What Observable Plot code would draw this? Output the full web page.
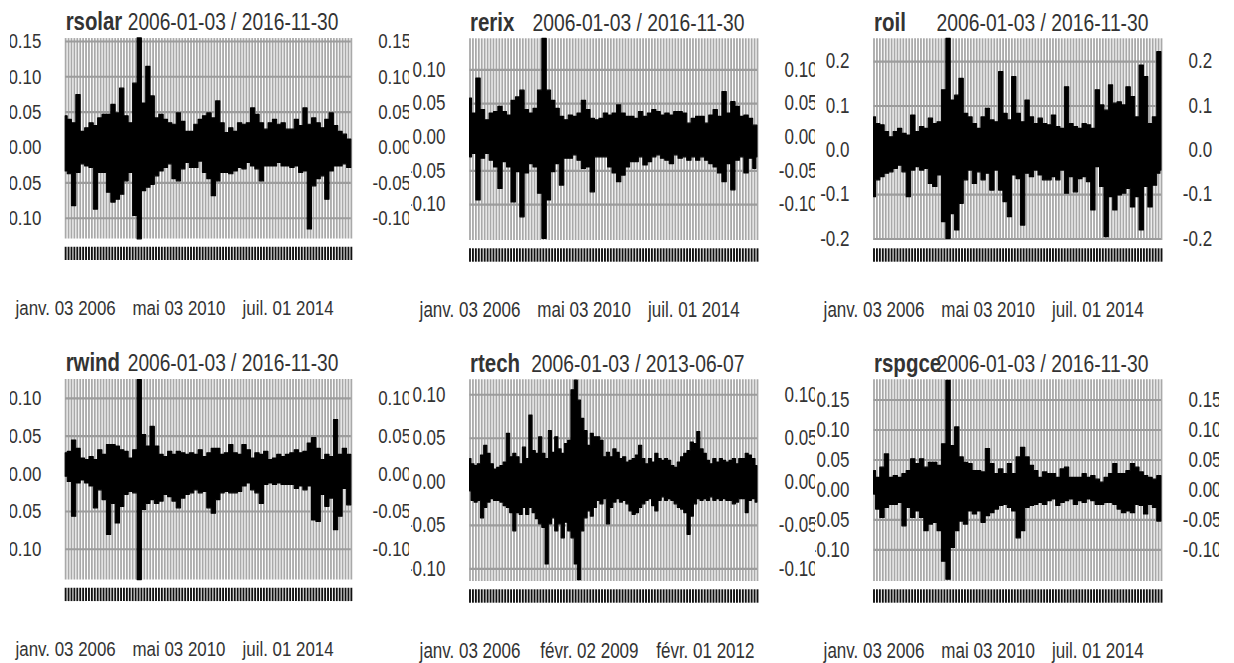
<!DOCTYPE html>
<html><head><meta charset="utf-8">
<script src="https://cdn.jsdelivr.net/npm/d3@7"></script>
<script src="https://cdn.jsdelivr.net/npm/@observablehq/plot@0.6"></script>
<style>
body{margin:0;background:#fff;}
#page{position:relative;width:1234px;height:663px;overflow:hidden;background:#fff;font-family:"Liberation Sans",Arial,sans-serif;}
.cell{position:absolute;overflow:hidden;}
.cell svg{position:relative;transform:scaleY(1.25);transform-origin:0 0;}
</style></head><body><div id="page"></div>
<script>
// ---- sample dates (bimonthly, 2006-01-03 .. 2016-11-30) ----
const datesA = ("2006-01-03 2006-03-01 2006-05-01 2006-07-01 2006-09-01 2006-11-01 " +
 "2007-01-01 2007-03-01 2007-05-01 2007-07-01 2007-09-01 2007-11-01 " +
 "2008-01-01 2008-03-01 2008-05-01 2008-07-01 2008-09-01 2008-11-01 " +
 "2009-01-01 2009-03-01 2009-05-01 2009-07-01 2009-09-01 2009-11-01 " +
 "2010-01-01 2010-03-01 2010-05-01 2010-07-01 2010-09-01 2010-11-01 " +
 "2011-01-01 2011-03-01 2011-05-01 2011-07-01 2011-09-01 2011-11-01 " +
 "2012-01-01 2012-03-01 2012-05-01 2012-07-01 2012-09-01 2012-11-01 " +
 "2013-01-01 2013-03-01 2013-05-01 2013-07-01 2013-09-01 2013-11-01 " +
 "2014-01-01 2014-03-01 2014-05-01 2014-07-01 2014-09-01 2014-11-01 " +
 "2015-01-01 2015-03-01 2015-05-01 2015-07-01 2015-09-01 2015-11-01 " +
 "2016-01-01 2016-03-01 2016-05-01 2016-07-01 2016-09-01 2016-11-01 2016-11-30").split(" ");
// ---- sample dates (monthly, 2006-01-03 .. 2013-06-07) ----
const datesB = ("2006-01-03 2006-02-01 2006-03-01 2006-04-01 2006-05-01 2006-06-01 2006-07-01 2006-08-01 2006-09-01 2006-10-01 2006-11-01 2006-12-01 " +
 "2007-01-01 2007-02-01 2007-03-01 2007-04-01 2007-05-01 2007-06-01 2007-07-01 2007-08-01 2007-09-01 2007-10-01 2007-11-01 2007-12-01 " +
 "2008-01-01 2008-02-01 2008-03-01 2008-04-01 2008-05-01 2008-06-01 2008-07-01 2008-08-01 2008-09-01 2008-10-01 2008-11-01 2008-12-01 " +
 "2009-01-01 2009-02-01 2009-03-01 2009-04-01 2009-05-01 2009-06-01 2009-07-01 2009-08-01 2009-09-01 2009-10-01 2009-11-01 2009-12-01 " +
 "2010-01-01 2010-02-01 2010-03-01 2010-04-01 2010-05-01 2010-06-01 2010-07-01 2010-08-01 2010-09-01 2010-10-01 2010-11-01 2010-12-01 " +
 "2011-01-01 2011-02-01 2011-03-01 2011-04-01 2011-05-01 2011-06-01 2011-07-01 2011-08-01 2011-09-01 2011-10-01 2011-11-01 2011-12-01 " +
 "2012-01-01 2012-02-01 2012-03-01 2012-04-01 2012-05-01 2012-06-01 2012-07-01 2012-08-01 2012-09-01 2012-10-01 2012-11-01 2012-12-01 " +
 "2013-01-01 2013-02-01 2013-03-01 2013-04-01 2013-05-01 2013-06-07").split(" ");

// ---- series envelopes (upper / lower returns read per sample period) ----
const rsolarHi = [0.044,0.039,0.034,0.074,0.022,0.027,0.034,0.030,0.041,0.046, 0.046,0.060,0.048,0.083,0.044,0.034,0.090,0.154,0.062,0.114, 0.072,0.041,0.046,0.039,0.034,0.032,0.048,0.036,0.022,0.022, 0.032,0.039,0.044,0.048,0.041,0.065,0.034,0.020,0.027,0.022, 0.034,0.032,0.034,0.055,0.046,0.034,0.025,0.034,0.039,0.032, 0.034,0.025,0.025,0.039,0.030,0.055,0.032,0.041,0.034,0.027, 0.039,0.048,0.030,0.022,0.018,0.011, 0.011];
const rsolarLo = [-0.034,-0.038,-0.083,-0.036,-0.024,-0.027,-0.029,-0.088,-0.036,-0.036, -0.064,-0.078,-0.074,-0.067,-0.048,-0.036,-0.097,-0.130,-0.062,-0.057, -0.053,-0.041,-0.034,-0.029,-0.024,-0.045,-0.048,-0.031,-0.022,-0.029, -0.029,-0.020,-0.036,-0.045,-0.069,-0.048,-0.036,-0.036,-0.038,-0.034, -0.029,-0.031,-0.022,-0.027,-0.031,-0.048,-0.027,-0.027,-0.027,-0.022, -0.027,-0.027,-0.029,-0.027,-0.036,-0.034,-0.116,-0.055,-0.045,-0.041, -0.074,-0.034,-0.027,-0.027,-0.024,-0.029, -0.029];

const rerixHi = [0.057,0.035,0.087,0.040,0.025,0.035,0.037,0.045,0.037,0.032, 0.054,0.059,0.069,0.040,0.035,0.042,0.069,0.146,0.069,0.054, 0.042,0.030,0.025,0.032,0.030,0.035,0.054,0.040,0.027,0.025, 0.027,0.035,0.032,0.035,0.047,0.035,0.030,0.030,0.027,0.037, 0.030,0.035,0.040,0.037,0.032,0.035,0.032,0.037,0.037,0.035, 0.020,0.027,0.030,0.030,0.020,0.032,0.040,0.030,0.067,0.035, 0.052,0.045,0.030,0.032,0.027,0.017, 0.017];
const rerixLo = [-0.030,-0.025,-0.094,-0.032,-0.025,-0.035,-0.045,-0.077,-0.037,-0.045, -0.097,-0.052,-0.119,-0.054,-0.040,-0.045,-0.084,-0.151,-0.094,-0.052, -0.040,-0.072,-0.032,-0.032,-0.027,-0.035,-0.047,-0.045,-0.082,-0.030, -0.030,-0.030,-0.045,-0.054,-0.067,-0.057,-0.045,-0.037,-0.037,-0.030, -0.042,-0.037,-0.030,-0.027,-0.032,-0.035,-0.040,-0.027,-0.032,-0.030, -0.035,-0.030,-0.035,-0.030,-0.035,-0.040,-0.045,-0.054,-0.067,-0.040, -0.079,-0.035,-0.030,-0.054,-0.032,-0.047, -0.030];

const roilHi = [0.074,0.059,0.056,0.041,0.029,0.041,0.048,0.037,0.033,0.078, 0.041,0.052,0.048,0.071,0.059,0.063,0.135,0.251,0.112,0.123, 0.161,0.082,0.074,0.059,0.048,0.074,0.093,0.067,0.063,0.176, 0.082,0.067,0.165,0.082,0.063,0.112,0.074,0.059,0.071,0.059, 0.056,0.078,0.052,0.048,0.142,0.059,0.052,0.048,0.059,0.056, 0.048,0.135,0.101,0.089,0.146,0.105,0.108,0.101,0.142,0.120, 0.074,0.191,0.165,0.059,0.074,0.221, 0.221];
const roilLo = [-0.106,-0.068,-0.061,-0.053,-0.050,-0.042,-0.035,-0.050,-0.106,-0.046, -0.038,-0.046,-0.042,-0.076,-0.083,-0.057,-0.162,-0.200,-0.144,-0.181, -0.121,-0.068,-0.046,-0.076,-0.050,-0.068,-0.053,-0.091,-0.046,-0.091, -0.117,-0.151,-0.057,-0.065,-0.170,-0.053,-0.061,-0.046,-0.057,-0.068, -0.068,-0.061,-0.068,-0.046,-0.098,-0.061,-0.095,-0.065,-0.061,-0.072, -0.136,-0.038,-0.083,-0.196,-0.106,-0.136,-0.102,-0.098,-0.087,-0.129, -0.106,-0.181,-0.083,-0.129,-0.080,-0.053, -0.046];

const rwindHi = [0.027,0.029,0.044,0.033,0.020,0.018,0.022,0.018,0.031,0.025, 0.038,0.038,0.036,0.031,0.029,0.020,0.031,0.124,0.051,0.036, 0.062,0.036,0.025,0.022,0.029,0.025,0.029,0.027,0.025,0.027, 0.025,0.031,0.022,0.027,0.033,0.033,0.025,0.027,0.038,0.027, 0.025,0.038,0.031,0.020,0.027,0.025,0.029,0.018,0.020,0.025, 0.022,0.025,0.027,0.031,0.027,0.029,0.040,0.047,0.033,0.018, 0.025,0.022,0.071,0.025,0.033,0.025, 0.025];
const rwindLo = [-0.004,-0.011,-0.057,-0.013,-0.009,-0.013,-0.017,-0.046,-0.022,-0.035, -0.081,-0.040,-0.066,-0.044,-0.028,-0.024,-0.026,-0.141,-0.048,-0.040, -0.035,-0.040,-0.037,-0.028,-0.031,-0.037,-0.046,-0.033,-0.028,-0.026, -0.022,-0.026,-0.024,-0.046,-0.053,-0.035,-0.026,-0.024,-0.026,-0.026, -0.024,-0.017,-0.013,-0.022,-0.026,-0.040,-0.015,-0.013,-0.015,-0.013, -0.015,-0.015,-0.015,-0.020,-0.017,-0.022,-0.017,-0.062,-0.064,-0.028, -0.044,-0.033,-0.075,-0.057,-0.020,-0.042, -0.042];

const rtechHi = [0.026,0.020,0.018,0.020,0.030,0.041,0.032,0.020,0.014,0.016, 0.018,0.022,0.055,0.028,0.032,0.028,0.020,0.039,0.026,0.076, 0.035,0.032,0.051,0.032,0.026,0.058,0.033,0.051,0.037,0.032, 0.043,0.047,0.105,0.116,0.093,0.072,0.058,0.041,0.055,0.051, 0.051,0.047,0.028,0.033,0.028,0.037,0.033,0.026,0.028,0.022, 0.024,0.026,0.030,0.041,0.026,0.020,0.026,0.022,0.032,0.026, 0.024,0.026,0.024,0.018,0.016,0.022,0.028,0.032,0.035,0.045, 0.043,0.057,0.037,0.032,0.024,0.020,0.026,0.022,0.026,0.024, 0.022,0.024,0.026,0.020,0.026,0.026,0.032,0.030,0.026, 0.018];
const rtechLo = [-0.011,-0.022,-0.024,-0.022,-0.042,-0.030,-0.024,-0.020,-0.022,-0.022, -0.024,-0.028,-0.030,-0.036,-0.057,-0.036,-0.038,-0.030,-0.038,-0.030, -0.036,-0.043,-0.049,-0.053,-0.095,-0.049,-0.042,-0.057,-0.049,-0.065, -0.047,-0.057,-0.065,-0.095,-0.113,-0.057,-0.042,-0.034,-0.040,-0.030, -0.022,-0.026,-0.020,-0.049,-0.030,-0.024,-0.020,-0.024,-0.022,-0.026, -0.034,-0.038,-0.036,-0.030,-0.026,-0.022,-0.020,-0.028,-0.034,-0.022, -0.018,-0.022,-0.020,-0.022,-0.026,-0.030,-0.032,-0.036,-0.061,-0.040, -0.026,-0.020,-0.022,-0.020,-0.022,-0.018,-0.022,-0.020,-0.022,-0.020, -0.022,-0.022,-0.026,-0.024,-0.020,-0.020,-0.036,-0.022,-0.020, -0.024];

const rspgceHi = [0.031,0.020,0.037,0.059,0.020,0.023,0.020,0.026,0.031,0.051, 0.043,0.051,0.037,0.045,0.045,0.040,0.076,0.182,0.073,0.104, 0.054,0.045,0.043,0.031,0.031,0.029,0.068,0.043,0.026,0.034, 0.026,0.043,0.026,0.054,0.070,0.054,0.040,0.031,0.020,0.029, 0.026,0.026,0.020,0.034,0.037,0.020,0.020,0.020,0.026,0.020, 0.023,0.017,0.012,0.020,0.026,0.043,0.026,0.026,0.031,0.043, 0.037,0.029,0.023,0.020,0.017,0.023, 0.023];
const rspgceLo = [-0.008,-0.033,-0.047,-0.030,-0.025,-0.025,-0.022,-0.061,-0.030,-0.047, -0.036,-0.047,-0.069,-0.058,-0.055,-0.069,-0.120,-0.150,-0.097,-0.069, -0.053,-0.058,-0.036,-0.041,-0.036,-0.055,-0.044,-0.039,-0.033,-0.027, -0.025,-0.030,-0.036,-0.081,-0.069,-0.030,-0.027,-0.025,-0.022,-0.025, -0.019,-0.016,-0.027,-0.022,-0.019,-0.016,-0.025,-0.019,-0.022,-0.016, -0.019,-0.025,-0.025,-0.022,-0.022,-0.025,-0.033,-0.039,-0.036,-0.039, -0.025,-0.027,-0.041,-0.025,-0.030,-0.053, -0.053];

// ---- y ranges (data range) and y tick values ----
const rsolarRange = [-0.1296, 0.1539];
const rerixRange  = [-0.1535, 0.146];
const roilRange   = [-0.2037, 0.2513];
const rwindRange  = [-0.141, 0.1248];
const rtechRange  = [-0.1146, 0.117];
const rspgceRange = [-0.153, 0.1836];
const ticks15 = [-0.10, -0.05, 0, 0.05, 0.10, 0.15];
const ticks10 = [-0.10, -0.05, 0, 0.05, 0.10];
const ticksOil = [-0.2, -0.1, 0, 0.1, 0.2];

// ---- titles and x tick labels ----
const names = ["rsolar", "rerix", "roil", "rwind", "rtech", "rspgce"];
const periodA = "2006-01-03 / 2016-11-30";
const periodB = "2006-01-03 / 2013-06-07";
const labelDatesA = ["2006-01-03", "2010-05-03", "2014-07-01"];
const labelTextsA = ["janv. 03 2006", "mai 03 2010", "juil. 01 2014"];
const labelDatesB = ["2006-01-03", "2009-02-02", "2012-02-01"];
const labelTextsB = ["janv. 03 2006", "févr. 02 2009", "févr. 01 2012"];

const panels = [
  {name: names[0], period: periodA, dates: datesA, hi: rsolarHi, lo: rsolarLo, range: rsolarRange, ticks: ticks15, dec: 2, ld: labelDatesA, lt: labelTextsA},
  {name: names[1], period: periodA, dates: datesA, hi: rerixHi, lo: rerixLo, range: rerixRange, ticks: ticks10, dec: 2, ld: labelDatesA, lt: labelTextsA},
  {name: names[2], period: periodA, dates: datesA, hi: roilHi, lo: roilLo, range: roilRange, ticks: ticksOil, dec: 1, ld: labelDatesA, lt: labelTextsA},
  {name: names[3], period: periodA, dates: datesA, hi: rwindHi, lo: rwindLo, range: rwindRange, ticks: ticks10, dec: 2, ld: labelDatesA, lt: labelTextsA},
  {name: names[4], period: periodB, dates: datesB, hi: rtechHi, lo: rtechLo, range: rtechRange, ticks: ticks10, dec: 2, ld: labelDatesB, lt: labelTextsB},
  {name: names[5], period: periodA, dates: datesA, hi: rspgceHi, lo: rspgceLo, range: rspgceRange, ticks: ticks15, dec: 2, ld: labelDatesA, lt: labelTextsA}
];

// ---- layout ----
const S = 1.25;                 // vertical text stretch
const colLeft = [7, 411, 815], rowTop = [0, 341];
const clipLeft = [2.5, 0, 0];   // extra clipping on the left edge of each column
const cellW = 404, cellH = 341;
const plotTop = 38.3, plotBottom = 240, plotLeft = 58.5, plotRight = 346;
const nGrid = 98;
const ink = "#333";
const font = '"Liberation Sans", Arial, sans-serif';
const page = document.getElementById("page");

panels.forEach((p, k) => {
  const col = k % 3, row = Math.floor(k / 3);
  const data = p.dates.map((d, i) => ({date: new Date(d), hi: p.hi[i], lo: p.lo[i]}));
  const start = new Date(p.dates[0]), end = new Date(p.dates[p.dates.length - 1]);
  const grid = d3.range(nGrid + 1).map(i => new Date(+start + (end - start) * i / nGrid));
  const fmt = v => v.toFixed(p.dec);
  const labels = p.ld.map((d, i) => ({date: new Date(d), text: p.lt[i]}));
  const chart = Plot.plot({
    width: cellW,
    height: cellH / S,
    marginTop: plotTop / S,
    marginBottom: (cellH - plotBottom) / S,
    marginLeft: plotLeft,
    marginRight: cellW - plotRight,
    x: {type: "utc", domain: [start, end], label: null},
    y: {domain: p.range, label: null},
    style: {fontFamily: font, color: ink, background: "#fff"},
    marks: [
      Plot.gridX(grid, {stroke: "#a9a9a9", strokeOpacity: 1, strokeWidth: 1.8}),
      Plot.gridY(p.ticks, {stroke: "#9c9c9c", strokeOpacity: 1, strokeWidth: 1.7}),
      Plot.areaY(data, {x: "date", y1: "lo", y2: "hi", curve: "step", fill: "#000", stroke: "#000", strokeWidth: 1}),
      Plot.axisX(grid, {anchor: "bottom", tickSize: 13.4 / S, dy: 8.3 / S, tickFormat: () => "", stroke: "#111", strokeOpacity: 1, strokeWidth: 1.9, label: null}),
      Plot.text(labels, {x: "date", text: "text", frameAnchor: "bottom", lineAnchor: "bottom", dy: (316 - plotBottom) / S, fontSize: 17, fill: ink}),
      Plot.axisY(p.ticks, {anchor: "left", tickSize: 0, tickPadding: 24.5, tickFormat: fmt, fontSize: 17, fill: ink, label: null}),
      Plot.axisY(p.ticks.filter(v => v >= 0), {anchor: "right", tickSize: 0, tickPadding: 27, tickFormat: fmt, fontSize: 17, fill: ink, label: null}),
      Plot.axisY(p.ticks.filter(v => v < 0), {anchor: "right", tickSize: 0, tickPadding: 21.3, tickFormat: fmt, fontSize: 17, fill: ink, label: null}),
      Plot.text([p.period], {frameAnchor: "top-right", textAnchor: "end", lineAnchor: "bottom", dx: -13, dy: (30 - plotTop) / S, fontSize: 19.3, fill: ink}),
      Plot.text([p.name], {frameAnchor: "top-left", textAnchor: "start", lineAnchor: "bottom", dy: (30 - plotTop) / S, fontSize: 20.5, fontWeight: "bold", fill: ink})
    ]
  });
  const cell = document.createElement("div");
  cell.className = "cell";
  cell.style.left = (colLeft[col] + clipLeft[col]) + "px";
  cell.style.top = rowTop[row] + "px";
  cell.style.width = (cellW - clipLeft[col]) + "px";
  cell.style.height = cellH + "px";
  chart.style.left = (-clipLeft[col]) + "px";
  cell.appendChild(chart);
  page.appendChild(cell);
});
</script>
</body></html>
